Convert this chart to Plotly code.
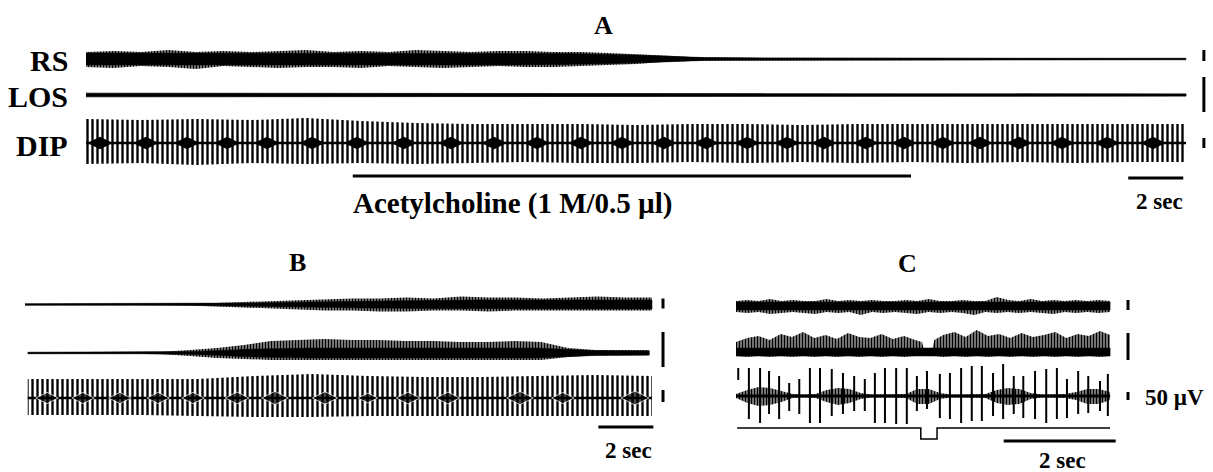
import numpy as np
import plotly.graph_objects as go

# ================= DATA =================
# Amplitudes are in display units (1 unit = 1 px of the original record)
# ---- Panel A : control -> acetylcholine (40 s record) ----
A_T_END = 40.0
A_RS_UP = [7, 8, 7, 9, 7, 8, 7, 8, 9, 7, 8, 7, 9, 8, 7, 8, 8, 7, 7, 6, 5, 3.5, 2, 1.5,
           1.5, 1.2, 1.3, 1.2, 1.2, 1.0, 0.8, 1.0, 0.8, 0.8, 1.0, 0.8, 0.8, 0.8, 0.8, 0.8, 0.8]
A_RS_DN = [8, 9, 7, 8, 10, 7, 8, 9, 8, 8, 9, 7, 8, 9, 8, 7, 8, 8, 7, 6, 5, 3, 2, 1.5,
           1.5, 1.2, 1.2, 1.2, 1.2, 1.0, 0.8, 1.0, 0.8, 0.8, 1.0, 0.8, 0.8, 0.8, 0.8, 0.8, 0.8]
A_RS_CORE = [6, 6, 6, 6, 6, 6, 6, 5.5, 4, 1.4, 1.0, 0.8, 0.8, 0.8, 0.8, 0.8, 0.8]
A_LOS_UP = [1.8, 1.8, 1.6, 1.6, 1.5, 1.3, 1.2, 1.1, 1.1]
A_LOS_DN = [1.8, 1.8, 1.7, 1.6, 1.5, 1.3, 1.2, 1.1, 1.1]
A_DIP_UP = [24, 23, 24, 23, 25, 22, 20, 19, 19, 19, 18, 19, 19, 18, 19, 19, 19, 19, 19, 19, 19]
A_DIP_DN = [21, 20, 22, 20, 21, 20, 21, 20, 19, 20, 20, 19, 20, 19, 20, 19, 20, 19, 20, 19, 19]
A_BURSTS = [0.51, 2.18, 3.67, 5.13, 6.58, 8.22, 9.85, 11.56, 13.27, 14.84, 16.40, 18.00, 19.49,
            21.02, 22.55, 24.04, 25.49, 26.84, 28.36, 29.75, 31.16, 32.51, 33.93, 35.49, 37.13, 38.80]
A_ACH = [9.7, 30.0]          # drug application bar (s)
A_CAL = [(-9, 2), (-18, 17), (-5, 5)]   # calibration bars RS, LOS, DIP (top, bottom rel. baseline)

# ---- Panel B : recovery (22.8 s record) ----
B_T_END = 22.8
B_RS_UP = [0.8, 0.8, 0.8, 0.8, 0.8, 0.8, 0.9, 1.5, 2.5, 3.5, 4.5, 5, 6, 6, 7, 6, 8, 7, 7, 6, 7, 8, 7, 7]
B_RS_DN = [0.8, 0.8, 0.8, 0.8, 0.8, 0.8, 0.9, 1.5, 3, 4, 5, 6, 6, 7, 7, 6, 6, 7, 6, 6, 6, 6, 6, 6]
B_RS_CORE = [0.8, 0.8, 0.8, 0.9, 1.5, 2.5, 3.5, 4, 4.5, 4.5, 4.5, 4.5]
B_LOS_UP = [0.8, 0.8, 0.8, 0.8, 0.8, 1.2, 3, 5, 8, 12, 13, 14, 13, 13, 12, 12, 11, 11, 12, 11, 5, 3, 3, 3]
B_LOS_DN = [0.8, 0.8, 0.8, 0.8, 0.8, 1.2, 3, 5, 6, 7, 7, 7, 7, 7, 7, 7, 7, 7, 7, 7, 4, 2.5, 2.5, 2.5]
B_LOS_CORE = [0.8, 0.8, 0.8, 1.5, 4, 5, 5, 5, 5, 5, 2.5, 2.0]
B_DIP_UP = [19, 19, 19, 19, 22, 24, 22, 21, 21, 22, 23, 22]
B_DIP_DN = [17, 17, 17, 18, 19, 19, 18, 18, 18, 18, 18, 18]
B_BURSTS = [0.80, 2.11, 3.45, 4.84, 6.11, 7.71, 9.09, 10.91, 12.47, 13.93, 15.38, 18.0, 19.56, 22.18]
B_BURST_W = [16, 16, 16, 16, 16, 17, 19, 18, 14, 17, 17, 19, 16, 20]
B_CAL = [(-6, 4), (-21, 14), (-8, 4)]

# ---- Panel C : expanded record (6.68 s) ----
C_T_END = 6.68
C_RS_UP = [5, 6, 5, 7, 5, 6, 5, 5, 7, 5, 6, 5, 6, 5, 5, 6, 5, 7, 5, 5, 6, 5, 5, 9, 6, 5, 7, 5, 6, 5, 6, 5, 6, 5]
C_RS_DN = [6, 7, 6, 8, 7, 6, 7, 8, 6, 7, 6, 9, 6, 7, 6, 7, 8, 6, 7, 6, 7, 9, 6, 7, 6, 7, 6, 7, 8, 6, 7, 6, 7, 6]
C_RS_CORE = 4.0
C_LOS_T = [0.0, 0.2, 0.4, 0.6, 0.8, 1.0, 1.2, 1.4, 1.6, 1.8, 2.0, 2.2, 2.4, 2.6, 2.8, 3.0, 3.2, 3.32,
           3.36, 3.50, 3.54, 3.7, 3.9, 4.1, 4.3, 4.5, 4.7, 4.9, 5.1, 5.3, 5.5, 5.7, 5.9, 6.1, 6.3, 6.5, 6.68]
C_LOS_UP = [10, 14, 16, 12, 18, 15, 20, 14, 17, 13, 19, 15, 14, 18, 13, 16, 12, 10,
            2, 2, 12, 17, 20, 15, 22, 16, 18, 14, 19, 15, 17, 20, 14, 18, 16, 21, 17]
C_LOS_DN = [4, 5, 4, 5, 4, 5, 4, 5, 4, 5, 4, 5, 4, 5, 4, 5, 4, 4,
            2, 2, 4, 5, 4, 5, 4, 5, 4, 5, 4, 5, 4, 5, 4, 5, 4, 5, 4]
C_LOS_CORE = 4.0
C_DIP_UP = [2, 6, 9, 8, 5, 2, 1.5, 2, 6, 8, 7, 3, 1.5, 1.5, 1.5, 2, 7, 7, 3, 1.5, 1.5, 1.5, 2, 6, 8, 7,
            3, 1.5, 1.5, 2, 4, 7, 7, 4]
C_DIP_DN = [2, 7, 10, 9, 6, 2, 1.5, 2, 6, 9, 7, 3, 1.5, 1.5, 1.5, 2, 8, 8, 3, 1.5, 1.5, 1.5, 2, 7, 9, 8,
            3, 1.5, 1.5, 2, 4, 8, 8, 4]
C_SPK_T = [0.04, 0.23, 0.43, 0.59, 0.77, 0.95, 1.13, 1.32, 1.50, 1.71, 1.91, 2.11, 2.30, 2.48, 2.66,
           2.86, 3.05, 3.23, 3.41, 3.64, 3.82, 4.02, 4.21, 4.39, 4.59, 4.77, 4.96, 5.13, 5.34, 5.54,
           5.73, 5.91, 6.11, 6.29, 6.50, 6.64]
C_SPK_UP = [28, 28, 28, 25, 20, 13, 17, 28, 28, 27, 23, 20, 17, 23, 28, 28, 28, 20, 25, 22, 23, 28,
            30, 30, 23, 32, 20, 20, 25, 27, 28, 17, 25, 20, 15, 22]
C_SPK_DN = [-16, 23, 27, 18, 23, 15, 18, 27, 27, 20, 18, 15, 15, 27, 27, 28, 28, 15, 13, 22, 23, 27,
            25, 25, 20, 23, 18, 22, 23, 27, 23, 22, 18, 17, 15, 20]
C_STIM_T = [0.02, 3.30, 3.30, 3.59, 3.59, 6.68]
C_STIM_V = [0, 0, 11, 11, 0, 0]
C_CAL = [(-6, 4), (-19, 8), (-4, 4)]

# ================= LAYOUT CONSTANTS =================
W, H = 1213, 472
A_PX0, A_PPS = 86, 27.5
B_PX0, B_PPS = 25, 27.5
C_PX0, C_PPS = 736, 56.0
A_ROWS = [59, 95, 143]
B_ROWS = [304.5, 353, 398]
C_ROWS = [306, 352, 396]
FONT = "Liberation Serif"

fig = go.Figure()

SPIKES = dict(shape="|", size=5, solidity=0.47, fgcolor="black", bgcolor="rgba(0,0,0,0)",
              fgopacity=1)
HAIR = dict(shape="|", size=3, solidity=0.7, fgcolor="black", bgcolor="rgba(0,0,0,0)",
            fgopacity=1)


def band(xa, t, base, up, dn, pattern=None, lw=0.8):
    t = list(t)
    xs = t + t[::-1]
    ys = [base - u for u in up] + [base + d for d in dn][::-1]
    kw = dict(x=xs, y=ys, xaxis=xa, yaxis="y", mode="lines", fill="toself",
              line=dict(color="black", width=lw), fillcolor="black",
              hoverinfo="skip", showlegend=False)
    if pattern is not None:
        kw["fillcolor"] = "rgba(0,0,0,0)"
        kw["fillpattern"] = pattern
        kw["line"] = dict(color="rgba(0,0,0,0)", width=0)
    fig.add_trace(go.Scatter(**kw))


def noisy(xa, t, base, up, dn, core, t_end):
    """hairy envelope (vertical-line texture) + solid core"""
    band(xa, t, base, up, dn, pattern=HAIR)
    if np.isscalar(core):
        core = [core, core]
    ct = np.linspace(t[0], t_end, len(core))
    band(xa, ct, base, core, core, lw=0.5)


def hline(xa, x0, x1, y, width):
    fig.add_trace(go.Scatter(x=[x0, x1], y=[y, y], xaxis=xa, yaxis="y", mode="lines",
                             line=dict(color="black", width=width), hoverinfo="skip",
                             showlegend=False))


def segs(xa, xs, tops, bots, width):
    X, Y = [], []
    for x, a, b in zip(xs, tops, bots):
        X += [x, x, None]
        Y += [a, b, None]
    fig.add_trace(go.Scatter(x=X, y=Y, xaxis=xa, yaxis="y", mode="lines",
                             line=dict(color="black", width=width), hoverinfo="skip",
                             showlegend=False))


# ---------- Panel A ----------
noisy("x", np.linspace(0, A_T_END, len(A_RS_UP)), A_ROWS[0], A_RS_UP, A_RS_DN, A_RS_CORE, A_T_END)
band("x", np.linspace(0, A_T_END, len(A_LOS_UP)), A_ROWS[1], A_LOS_UP, A_LOS_DN)
band("x", np.linspace(0, A_T_END, len(A_DIP_UP)), A_ROWS[2], A_DIP_UP, A_DIP_DN, pattern=SPIKES)
hline("x", 0, A_T_END, A_ROWS[2], 2.5)
fig.add_trace(go.Scatter(x=A_BURSTS, y=[A_ROWS[2]] * len(A_BURSTS), xaxis="x", yaxis="y",
                         mode="markers", marker=dict(symbol="diamond-wide", size=18, color="black"),
                         hoverinfo="skip", showlegend=False))
segs("x", [A_T_END + 0.65] * 3, [r + c[0] for r, c in zip(A_ROWS, A_CAL)],
     [r + c[1] for r, c in zip(A_ROWS, A_CAL)], 3)
hline("x", A_ACH[0], A_ACH[1], 176, 3)
hline("x", A_T_END - 2.1, A_T_END - 0.1, 178, 3)

# ---------- Panel B ----------
noisy("x2", np.linspace(0, B_T_END, len(B_RS_UP)), B_ROWS[0], B_RS_UP, B_RS_DN, B_RS_CORE, B_T_END)
noisy("x2", np.linspace(0.1, B_T_END - 0.1, len(B_LOS_UP)), B_ROWS[1], B_LOS_UP, B_LOS_DN,
      B_LOS_CORE, B_T_END - 0.1)
band("x2", np.linspace(0.1, B_T_END, len(B_DIP_UP)), B_ROWS[2], B_DIP_UP, B_DIP_DN, pattern=SPIKES)
hline("x2", 0.1, B_T_END, B_ROWS[2], 2.5)
fig.add_trace(go.Scatter(x=B_BURSTS, y=[B_ROWS[2]] * len(B_BURSTS), xaxis="x2", yaxis="y",
                         mode="markers", marker=dict(symbol="diamond-wide", size=B_BURST_W, color="black"),
                         hoverinfo="skip", showlegend=False))
segs("x2", [B_T_END + 0.4] * 3, [r + c[0] for r, c in zip(B_ROWS, B_CAL)],
     [r + c[1] for r, c in zip(B_ROWS, B_CAL)], 3)
hline("x2", B_T_END - 1.95, B_T_END + 0.05, 427, 3)

# ---------- Panel C ----------
noisy("x3", np.linspace(0, C_T_END, len(C_RS_UP)), C_ROWS[0], C_RS_UP, C_RS_DN, C_RS_CORE, C_T_END)
noisy("x3", C_LOS_T, C_ROWS[1], C_LOS_UP, C_LOS_DN, C_LOS_CORE, C_T_END)
band("x3", np.linspace(0, C_T_END, len(C_DIP_UP)), C_ROWS[2], C_DIP_UP, C_DIP_DN, pattern=HAIR)
hline("x3", 0, C_T_END, C_ROWS[2], 3)
segs("x3", C_SPK_T, [C_ROWS[2] - u for u in C_SPK_UP], [C_ROWS[2] + d for d in C_SPK_DN], 2)
fig.add_trace(go.Scatter(x=C_STIM_T, y=[428 + v for v in C_STIM_V], xaxis="x3", yaxis="y",
                         mode="lines", line=dict(color="black", width=1.5),
                         hoverinfo="skip", showlegend=False))
segs("x3", [C_T_END + 0.32] * 3, [r + c[0] for r, c in zip(C_ROWS, C_CAL)],
     [r + c[1] for r, c in zip(C_ROWS, C_CAL)], 3)
hline("x3", C_T_END - 1.9, C_T_END + 0.1, 441, 3)


# ---------- Text ----------
def label(xa, x, y, text, size, anchor="center"):
    fig.add_annotation(x=x, y=y, xref=xa, yref="y", text=text, showarrow=False,
                       xanchor=anchor, yanchor="middle",
                       font=dict(family=FONT, size=size, color="black", weight="bold"))


label("x", (603 - A_PX0) / A_PPS, 25, "A", 26)
label("x", -0.6, A_ROWS[0] + 1, "RS", 30, "right")
label("x", -0.6, A_ROWS[1] + 1, "LOS", 30, "right")
label("x", -0.6, A_ROWS[2] + 2, "DIP", 30, "right")
label("x", (513 - A_PX0) / A_PPS, 203, "Acetylcholine (1 M/0.5 \u00b5l)", 29)
label("x", A_T_END - 0.95, 201, "2 sec", 23)
label("x2", (297 - B_PX0) / B_PPS, 262, "B", 26)
label("x2", B_T_END - 0.85, 450, "2 sec", 23)
label("x3", (907 - C_PX0) / C_PPS, 263, "C", 26)
label("x3", C_T_END + 0.58, C_ROWS[2] + 1, "50 \u00b5V", 23, "left")
label("x3", C_T_END - 0.85, 460, "2 sec", 23)

ax = dict(visible=False, showgrid=False, zeroline=False, domain=[0, 1], fixedrange=True)
fig.update_layout(
    width=W, height=H, margin=dict(l=0, r=0, t=0, b=0),
    paper_bgcolor="white", plot_bgcolor="white", showlegend=False,
    xaxis=dict(**ax, range=[-A_PX0 / A_PPS, (W - A_PX0) / A_PPS]),
    xaxis2=dict(**ax, overlaying="x", anchor="y", range=[-B_PX0 / B_PPS, (W - B_PX0) / B_PPS]),
    xaxis3=dict(**ax, overlaying="x", anchor="y", range=[-C_PX0 / C_PPS, (W - C_PX0) / C_PPS]),
    yaxis=dict(visible=False, showgrid=False, zeroline=False, range=[H, 0], fixedrange=True),
)
fig.write_html("out.html", config={"displayModeBar": False})
